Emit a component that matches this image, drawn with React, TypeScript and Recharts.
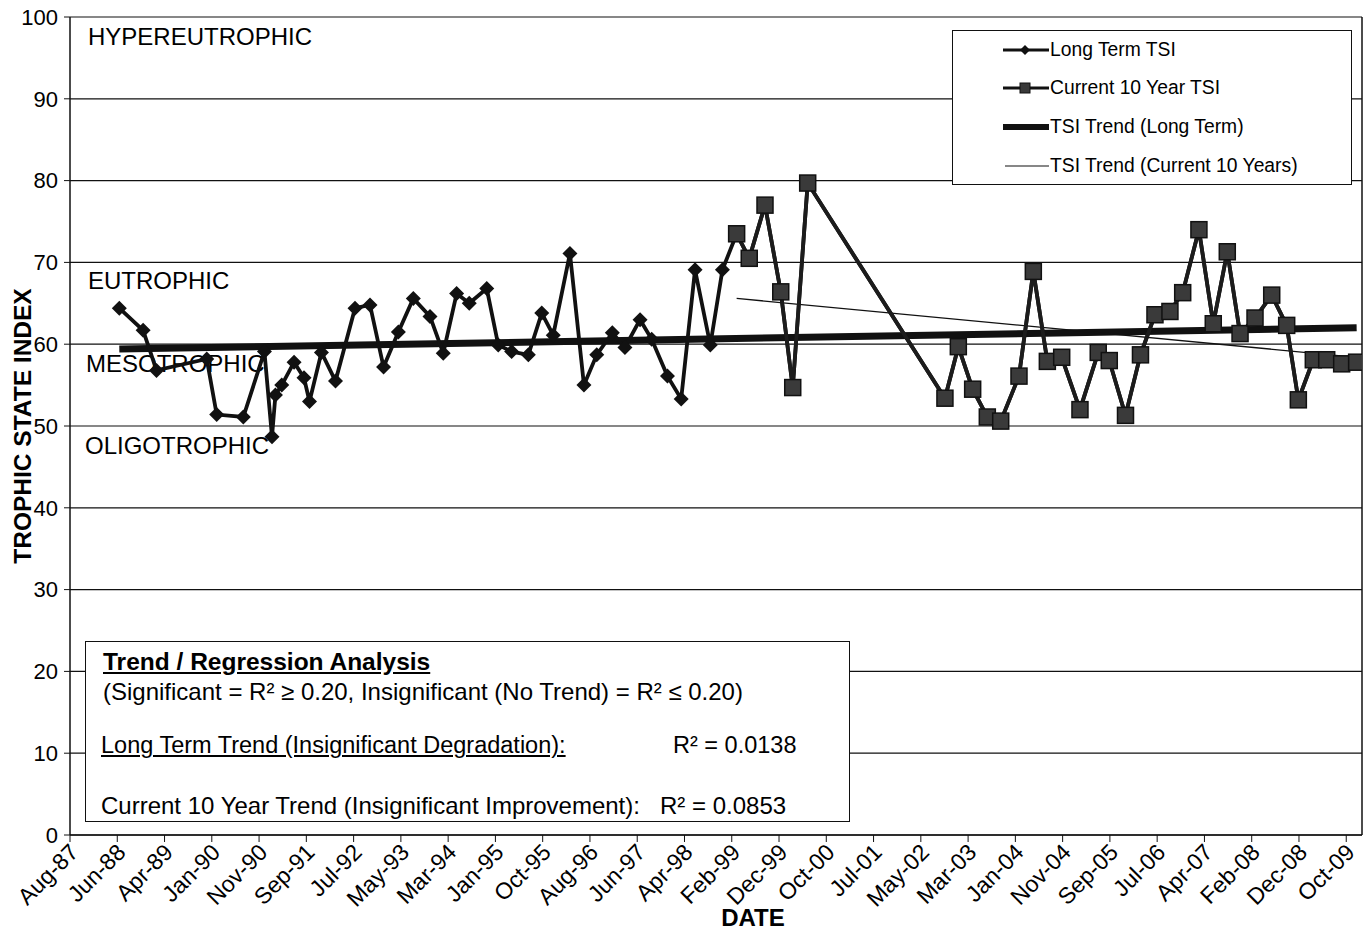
import { LineChart, Line, XAxis, YAxis, CartesianGrid, ReferenceLine } from "recharts";

// ── Data (dates, TSI values on a 0–100 scale) ───────────────────────────────

const LT_DATES = [
  "1988-06-19", "1988-11-17", "1989-02-10", "1989-12-26", "1990-02-27", "1990-08-15",
  "1990-12-27", "1991-02-13", "1991-03-07", "1991-04-16", "1991-07-03", "1991-09-04",
  "1991-10-09", "1991-12-24", "1992-03-22", "1992-07-24", "1992-10-27", "1993-01-21",
  "1993-04-25", "1993-07-29", "1993-11-12", "1994-02-04", "1994-04-30", "1994-07-19",
  "1994-11-07", "1995-01-19", "1995-04-14", "1995-07-29", "1995-10-22", "1996-01-03",
  "1996-04-18", "1996-07-16", "1996-10-05", "1997-01-12", "1997-04-02", "1997-07-07",
  "1997-09-19", "1997-12-28", "1998-03-25", "1998-06-21", "1998-09-26", "1998-12-12",
];
const LT_TSI = [
  64.4, 61.7, 56.8, 58.2, 51.4, 51.1,
  59.1, 48.7, 53.8, 55.0, 57.8, 55.9,
  53.0, 59.0, 55.5, 64.4, 64.8, 57.2,
  61.5, 65.6, 63.4, 58.9, 66.2, 65.0,
  66.8, 59.9, 59.1, 58.7, 63.8, 61.1,
  71.1, 55.0, 58.7, 61.4, 59.6, 63.0,
  60.6, 56.1, 53.3, 69.1, 59.9, 69.1,
];

const CUR_DATES = [
  "1999-03-12", "1999-05-31", "1999-09-08", "1999-12-17", "2000-03-02", "2000-06-05",
  "2002-10-24", "2003-01-17", "2003-04-18", "2003-07-20", "2003-10-13", "2004-02-06",
  "2004-05-07", "2004-08-04", "2004-11-03", "2005-02-27", "2005-06-23", "2005-09-01",
  "2005-12-13", "2006-03-18", "2006-06-18", "2006-09-21", "2006-12-11", "2007-03-24",
  "2007-06-23", "2007-09-20", "2007-12-10", "2008-03-14", "2008-06-28", "2008-10-01",
  "2008-12-14", "2009-03-19", "2009-06-12", "2009-09-15", "2009-12-19",
];
const CUR_TSI = [
  73.5, 70.5, 77.0, 66.4, 54.7, 79.7,
  53.4, 59.7, 54.5, 51.1, 50.6, 56.1,
  68.9, 57.9, 58.4, 52.0, 59.0, 58.0,
  51.3, 58.7, 63.6, 64.0, 66.3, 74.0,
  62.5, 71.3, 61.3, 63.2, 66.0, 62.3,
  53.2, 58.1, 58.1, 57.6, 57.8,
];

// regression lines (end points)
const TREND_LT_DATES = ["1988-06-19", "2009-12-19"];
const TREND_LT = [59.4, 62.0];
const TREND_CUR_DATES = ["1999-03-12", "2009-12-19"];
const TREND_CUR = [65.6, 58.4];

// Excel-style date axis: serial 32000 (Aug-87), major unit 300 days
const X_MIN = 32000;
const X_MAX = 40200;
const X_TICKS = Array.from({ length: 28 }, (_, i) => X_MIN + i * 300);
const Y_TICKS = [0, 10, 20, 30, 40, 50, 60, 70, 80, 90, 100];
const MONTHS = ["Jan", "Feb", "Mar", "Apr", "May", "Jun", "Jul", "Aug", "Sep", "Oct", "Nov", "Dec"];

const ZONES = [
  { name: "HYPEREUTROPHIC", left: 88, y: 37 },
  { name: "EUTROPHIC", left: 88, y: 281 },
  { name: "MESOTROPHIC", left: 86, y: 364 },
  { name: "OLIGOTROPHIC", left: 85, y: 446 },
];

const FONT = '"Liberation Sans", Arial, Helvetica, sans-serif';
const INK = "#111";

// ── Helpers ─────────────────────────────────────────────────────────────────

const toSerial = (iso: string) => {
  const [y, m, d] = iso.split("-").map(Number);
  return Date.UTC(y, m - 1, d) / 86400000 + 25569;
};

const fmtTick = (serial: number) => {
  const dt = new Date((serial - 25569) * 86400000);
  return `${MONTHS[dt.getUTCMonth()]}-${String(dt.getUTCFullYear()).slice(2)}`;
};

const pairs = (dates: string[], vals: number[]) =>
  dates.map((d, i) => ({ x: toSerial(d), v: vals[i] }));

const longTerm = pairs([...LT_DATES, ...CUR_DATES], [...LT_TSI, ...CUR_TSI]);
const current = pairs(CUR_DATES, CUR_TSI);
const trendLong = pairs(TREND_LT_DATES, TREND_LT);
const trendCur = pairs(TREND_CUR_DATES, TREND_CUR);

// ── Marks ───────────────────────────────────────────────────────────────────

function Diamond(props: any) {
  const { cx, cy, index } = props;
  if (cx == null || cy == null) return <g key={`d-${index}`} />;
  const r = 7.5;
  return (
    <path
      key={`d-${index}`}
      d={`M${cx},${cy - r} L${cx + r},${cy} L${cx},${cy + r} L${cx - r},${cy} Z`}
      fill={INK}
    />
  );
}

function Square(props: any) {
  const { cx, cy, index } = props;
  if (cx == null || cy == null) return <g key={`s-${index}`} />;
  const h = 8;
  return (
    <rect
      key={`s-${index}`}
      x={cx - h}
      y={cy - h}
      width={h * 2}
      height={h * 2}
      fill="#3a3a3a"
      stroke={INK}
      strokeWidth={1.5}
    />
  );
}

function DateTick({ x, y, payload }: any) {
  const ax = x + 4;
  const ay = y + 4;
  return (
    <text
      x={ax}
      y={ay}
      dy="0.35em"
      textAnchor="end"
      transform={`rotate(-45 ${ax} ${ay})`}
      fontSize={23}
      fill="#000"
    >
      {fmtTick(payload.value)}
    </text>
  );
}

function YTitle({ viewBox }: any) {
  const cx = 22;
  const cy = viewBox.y + viewBox.height / 2;
  return (
    <text
      x={cx}
      y={cy}
      dy="0.35em"
      textAnchor="middle"
      transform={`rotate(-90 ${cx} ${cy})`}
      fontSize={24.5}
      fontWeight="bold"
      fill="#000"
    >
      TROPHIC STATE INDEX
    </text>
  );
}

function XTitle({ viewBox }: any) {
  const cx = viewBox.x + viewBox.width / 2 + 37;
  const cy = viewBox.y + 83;
  return (
    <text x={cx} y={cy} dy="0.35em" textAnchor="middle" fontSize={24} fontWeight="bold" fill="#000">
      DATE
    </text>
  );
}

// ── Legend & regression box ─────────────────────────────────────────────────

function LegendSample({ kind }: { kind: string }) {
  return (
    <svg width={46} height={16} style={{ display: "block" }}>
      {kind === "trendLong" && <line x1={0} y1={8} x2={46} y2={8} stroke={INK} strokeWidth={6} />}
      {kind === "trendCur" && <line x1={2} y1={8} x2={46} y2={8} stroke={INK} strokeWidth={1.2} />}
      {kind === "long" && (
        <>
          <line x1={0} y1={8} x2={46} y2={8} stroke={INK} strokeWidth={3} />
          <path d="M22,3 L27,8 L22,13 L17,8 Z" fill={INK} />
        </>
      )}
      {kind === "cur" && (
        <>
          <line x1={0} y1={8} x2={46} y2={8} stroke={INK} strokeWidth={3} />
          <rect x={17} y={3} width={10} height={10} fill="#3a3a3a" stroke={INK} />
        </>
      )}
    </svg>
  );
}

const LEGEND_ROWS = [
  { kind: "long", label: "Long Term TSI", y: 19 },
  { kind: "cur", label: "Current 10 Year TSI", y: 57 },
  { kind: "trendLong", label: "TSI Trend (Long Term)", y: 96 },
  { kind: "trendCur", label: "TSI Trend (Current 10 Years)", y: 135 },
];

function ChartLegend() {
  return (
    <div
      style={{
        position: "absolute",
        left: 952,
        top: 30,
        width: 400,
        height: 155,
        border: `1.5px solid ${INK}`,
        background: "#fff",
        boxSizing: "border-box",
      }}
    >
      {LEGEND_ROWS.map((r) => (
        <div
          key={r.kind}
          style={{
            position: "absolute",
            left: 50,
            top: r.y - 10,
            height: 20,
            display: "flex",
            alignItems: "center",
            fontSize: 19.3,
            whiteSpace: "nowrap",
          }}
        >
          <LegendSample kind={r.kind} />
          <span style={{ marginLeft: 1 }}>{r.label}</span>
        </div>
      ))}
    </div>
  );
}

function RegressionBox() {
  const line = (top: number, left: number, fs: number, extra: any = {}) => ({
    position: "absolute" as const,
    top: top - fs / 2,
    left,
    fontSize: fs,
    lineHeight: `${fs}px`,
    whiteSpace: "nowrap" as const,
    ...extra,
  });
  return (
    <div
      style={{
        position: "absolute",
        left: 85,
        top: 641,
        width: 765,
        height: 181,
        border: `1.5px solid ${INK}`,
        background: "#fff",
        boxSizing: "border-box",
      }}
    >
      <div style={line(20, 17, 24.5, { fontWeight: "bold", textDecoration: "underline" })}>
        Trend / Regression Analysis
      </div>
      <div style={line(50, 17, 24)}>
        (Significant = R² ≥ 0.20, Insignificant (No Trend) = R² ≤ 0.20)
      </div>
      <div style={line(104, 15, 23.5, { textDecoration: "underline" })}>
        Long Term Trend (Insignificant Degradation):
      </div>
      <div style={line(104, 587, 23.5)}>R² = 0.0138</div>
      <div style={line(164, 15, 24)}>
        Current 10 Year Trend (Insignificant Improvement):
      </div>
      <div style={line(164, 574, 24)}>R² = 0.0853</div>
    </div>
  );
}

// ── Chart ───────────────────────────────────────────────────────────────────

export default function App() {
  return (
    <div
      style={{
        position: "absolute",
        left: 0,
        top: 0,
        width: 1367,
        height: 939,
        background: "#fff",
        fontFamily: FONT,
        color: "#000",
        overflow: "hidden",
      }}
    >
      {/* Trophic zone labels (behind the series) */}
      {ZONES.map((z) => (
        <div
          key={z.name}
          style={{
            position: "absolute",
            left: z.left,
            top: z.y - 12,
            fontSize: 24,
            lineHeight: "24px",
            whiteSpace: "nowrap",
          }}
        >
          {z.name}
        </div>
      ))}

      <div style={{ position: "absolute", left: 0, top: 0 }}>
        <LineChart width={1367} height={939} margin={{ top: 17, right: 5, bottom: 0, left: 0 }}>
          <CartesianGrid vertical={false} stroke={INK} strokeWidth={1.2} />
          <XAxis
            type="number"
            dataKey="x"
            domain={[X_MIN, X_MAX]}
            ticks={X_TICKS}
            interval={0}
            allowDataOverflow
            height={104}
            tickSize={7}
            tickMargin={2}
            tick={<DateTick />}
            axisLine={{ stroke: INK, strokeWidth: 1.5 }}
            tickLine={{ stroke: INK }}
            label={<XTitle />}
          />
          <YAxis
            type="number"
            domain={[0, 100]}
            ticks={Y_TICKS}
            interval={0}
            width={70}
            tickSize={6}
            tickMargin={6}
            tick={{ fontSize: 22, fill: "#000" }}
            axisLine={{ stroke: INK, strokeWidth: 1.5 }}
            tickLine={{ stroke: INK }}
            label={<YTitle />}
          />
          <ReferenceLine x={X_MAX} stroke={INK} strokeWidth={1.5} />

          <Line
            data={trendLong}
            dataKey="v"
            type="linear"
            stroke={INK}
            strokeWidth={7}
            dot={false}
            isAnimationActive={false}
            name="TSI Trend (Long Term)"
          />
          <Line
            data={trendCur}
            dataKey="v"
            type="linear"
            stroke={INK}
            strokeWidth={1.3}
            dot={false}
            isAnimationActive={false}
            name="TSI Trend (Current 10 Years)"
          />
          <Line
            data={longTerm}
            dataKey="v"
            type="linear"
            stroke={INK}
            strokeWidth={3.8}
            dot={Diamond}
            isAnimationActive={false}
            name="Long Term TSI"
          />
          <Line
            data={current}
            dataKey="v"
            type="linear"
            stroke="#1c1c1c"
            strokeWidth={3.8}
            dot={Square}
            isAnimationActive={false}
            name="Current 10 Year TSI"
          />
        </LineChart>
      </div>

      <ChartLegend />
      <RegressionBox />
    </div>
  );
}
